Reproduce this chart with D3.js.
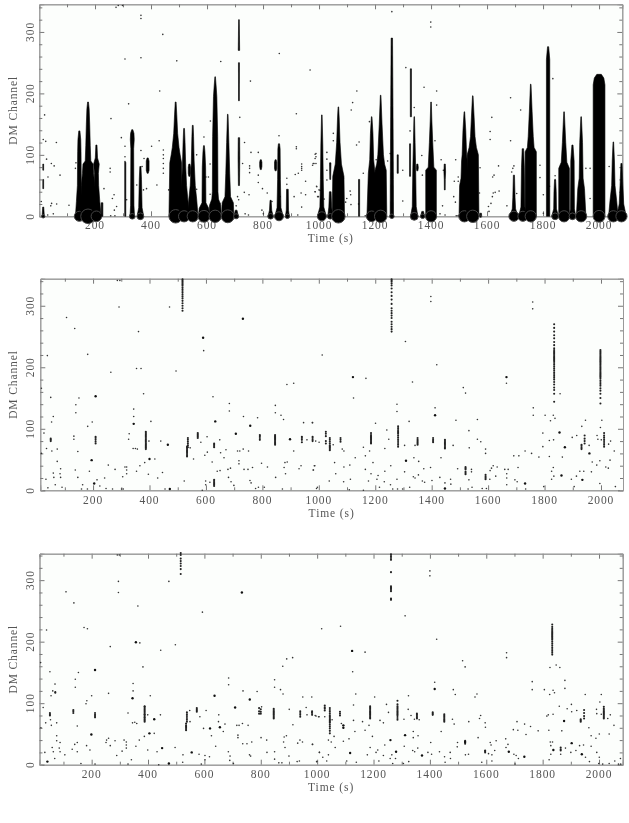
<!DOCTYPE html>
<html>
<head>
<meta charset="utf-8">
<script src="https://cdn.jsdelivr.net/npm/d3@7"></script>
<style>
html, body { margin: 0; padding: 0; background: #fff; }
svg { display: block; filter: blur(0.4px); }
text { font-family: "Liberation Serif", serif; font-size: 11.5px; fill: #555; letter-spacing: 0.9px; }
</style>
</head>
<body>
<div id="my_dataviz"></div>
<script>
const xMajor = [200, 400, 600, 800, 1000, 1200, 1400, 1600, 1800, 2000];
const xMinor = [100, 300, 500, 700, 900, 1100, 1300, 1500, 1700, 1900];
const yMajor = [0, 100, 200, 300];
const yMinor = [20, 40, 60, 80, 120, 140, 160, 180, 220, 240, 260, 280, 320, 340];
const xTitle = "Time (s)";
const yTitle = "DM Channel";

// top panel: big pulses, time / width of the blob at dm 0 / [dm, half width in s]
const towerTimes = [15, 15, 15, 144, 175, 205, 225, 308, 333, 362, 388, 488, 518, 537, 549, 589, 629, 674, 704, 714, 714, 714, 792, 827, 845, 857, 887, 1010, 1040, 1040, 1069, 1143, 1188, 1220, 1260, 1281, 1328, 1325, 1340, 1351, 1370, 1400, 1449, 1519, 1549, 1577, 1696, 1728, 1756, 1818, 1843, 1875, 1905, 1936, 2000, 2051, 2080];
const towerBlobs = [6, 0, 0, 18, 26, 19, 0, 0, 10, 12, 0, 24, 20, 0, 20, 21, 22, 23, 9, 0, 0, 0, 0, 10, 0, 16, 8, 16, 10, 0, 24, 0, 19, 22, 8, 0, 0, 0, 14, 0, 8, 20, 0, 20, 22, 4, 18, 18, 20, 0, 12, 20, 12, 20, 21, 20, 20];
const towerProfiles = [
  [[0, 4], [15, 1.8]],
  [[45, 1.5], [60, 1.5]],
  [[75, 1.5], [85, 1.5]],
  [[0, 14], [24, 10.5], [50, 7], [105, 6], [125, 5], [139, 2]],
  [[0, 26], [50, 24], [70, 20], [85, 18], [90, 10], [115, 8], [150, 6], [175, 4], [186, 1.5]],
  [[0, 17], [24, 12], [50, 8], [70, 7], [85, 10], [95, 4], [116, 2]],
  [[0, 3], [22, 3]],
  [[0, 2], [88, 2]],
  [[0, 8], [18, 6], [110, 5], [125, 7], [135, 6], [141, 2]],
  [[0, 12], [14, 6], [60, 4], [81, 2]],
  [[70, 2], [75, 5], [90, 5], [95, 2]],
  [[0, 24], [87, 21], [100, 16], [112, 12], [135, 7], [165, 4], [186, 1.5]],
  [[0, 19], [25, 14], [50, 9], [80, 6], [120, 3.5], [143, 1.5]],
  [[65, 2], [70, 4], [80, 4], [85, 2]],
  [[0, 19], [28, 14], [50, 9], [90, 5], [130, 3], [148, 1.5]],
  [[0, 20], [13, 17], [22, 7], [80, 6], [105, 3.5], [115, 1.5]],
  [[0, 22], [18, 20], [28, 12], [40, 10], [130, 9], [195, 6], [212, 3.5], [227, 1]],
  [[0, 22], [22, 20], [32, 10], [70, 7], [120, 4], [166, 1]],
  [[0, 8], [10, 3]],
  [[50, 2], [95, 3], [128, 2.5]],
  [[188, 1.5], [250, 1.8]],
  [[270, 2.5], [320, 1.2]],
  [[76, 2], [81, 4], [88, 4], [92, 2]],
  [[0, 9], [10, 4], [26, 2]],
  [[74, 2], [78, 4], [88, 4], [92, 2]],
  [[0, 15], [14, 7], [60, 5], [110, 4], [118, 2]],
  [[0, 7], [10, 4], [44, 3]],
  [[0, 16], [15, 7], [60, 5], [116, 3.5], [165, 1]],
  [[0, 9], [15, 5], [40, 3]],
  [[60, 1.5], [87, 2.5]],
  [[0, 22], [65, 20], [85, 11], [120, 6], [160, 3], [178, 1]],
  [[0, 2], [60, 2]],
  [[0, 17], [70, 12], [92, 7], [135, 4.5], [162, 1]],
  [[0, 22], [75, 20], [85, 14], [100, 10], [150, 5], [197, 1]],
  [[0, 6], [60, 5.5], [180, 4], [290, 2.5]],
  [[70, 2], [100, 2]],
  [[162, 2], [240, 2]],
  [[65, 1.8], [118, 1.8]],
  [[0, 13], [16, 7], [80, 5], [120, 3], [162, 1]],
  [[74, 2], [79, 3.5], [85, 2]],
  [[0, 7], [8, 3]],
  [[0, 19], [75, 19], [80, 10], [120, 6], [155, 3], [186, 1]],
  [[43, 1.5], [60, 1.8], [72, 3], [85, 2]],
  [[0, 19], [50, 17], [62, 12], [90, 10], [100, 8], [140, 5], [170, 1]],
  [[0, 22], [100, 20], [112, 13], [130, 8], [160, 5], [196, 1]],
  [[0, 4], [5, 3]],
  [[0, 15], [12, 6], [30, 4], [67, 2]],
  [[0, 15], [15, 7], [80, 5], [110, 2.5]],
  [[0, 20], [105, 20], [112, 12], [130, 9], [170, 5], [215, 1]],
  [[0, 6], [255, 6], [276, 2]],
  [[0, 12], [12, 5], [40, 4], [59, 2]],
  [[0, 19], [78, 19], [88, 10], [120, 6], [150, 3], [170, 1]],
  [[0, 12], [12, 7], [90, 6], [116, 2]],
  [[0, 17], [45, 12], [62, 7], [120, 5], [162, 1]],
  [[0, 21], [214, 21], [225, 17], [231, 8]],
  [[0, 17], [25, 12], [50, 6], [90, 4], [121, 1]],
  [[0, 17], [20, 8], [50, 5], [86, 2]]
];
const pulses1 = [[275,340],[283,343],[298,343],[364,327],[364,322],[442,296],[307,256],[364,258],[492,253],[649,252],[858,265],[968,238],[755,220],[431,204],[320,183],[20,165],[257,159],[612,155],[717,161],[919,167],[294,128],[15,125],[24,122],[62,120],[429,123],[307,114],[364,107],[402,114],[444,108],[444,100],[444,94],[444,86],[444,78],[444,70],[589,129],[734,120],[757,104],[783,104],[857,131],[919,110],[919,113],[27,93],[44,86],[54,82],[75,67],[32,64],[130,78],[132,87],[254,78],[254,72],[307,97],[307,89],[375,94],[368,81],[421,51],[373,43],[384,45],[471,90],[463,43],[232,45],[268,35],[262,29],[277,16],[269,10],[256,1],[271,1],[8,24],[45,21],[63,20],[42,17],[51,4],[31,2],[107,18],[313,27],[349,51],[563,100],[563,44],[596,64],[611,36],[605,64],[611,85],[646,21],[752,82],[752,78],[752,71],[783,67],[783,55],[815,38],[750,35],[733,39],[798,45],[832,24],[796,10],[801,4],[736,4],[748,2],[727,86],[709,32],[713,27],[704,17],[911,32],[915,68],[926,70],[938,81],[938,75],[938,85],[938,78],[936,38],[938,15],[952,35],[952,57],[979,86],[989,86],[989,97],[989,102],[992,48],[986,40],[1000,43],[998,32],[861,32],[885,62],[885,52],[924,2],[1260,333],[1399,316],[1399,308],[1310,242],[1375,210],[1420,204],[1135,204],[1120,185],[1115,173],[1420,181],[1684,193],[1720,173],[1835,224],[1617,161],[1611,138],[1611,125],[1684,123],[1180,154],[1051,135],[1051,123],[1143,121],[1134,116],[1340,177],[1414,123],[986,101],[986,94],[982,86],[977,83],[1028,104],[1028,93],[1028,75],[1028,59],[991,49],[995,32],[986,40],[1004,42],[1018,28],[1087,62],[1158,70],[1111,41],[1113,35],[1099,29],[1095,23],[1114,19],[1141,20],[1165,1],[1204,92],[1245,90],[1254,102],[1299,75],[1299,25],[1367,99],[1369,67],[1325,139],[1436,92],[1444,75],[1441,17],[1450,2],[1432,4],[1488,92],[1483,57],[1497,64],[1497,57],[1487,23],[1481,32],[1490,1],[1496,1],[1500,1],[1575,79],[1573,38],[1641,82],[1625,67],[1620,64],[1643,41],[1629,39],[1622,38],[1619,32],[1614,21],[1607,8],[1605,16],[1671,17],[1692,78],[1696,82],[1706,37],[1688,72],[1789,83],[1789,63],[1801,35],[1801,5],[1823,49],[1953,78],[1968,78],[1968,29],[2036,81],[1843,66],[1843,60]];

// lower panels
const pulses2 = [[286,341],[295,341],[292,298],[106,281],[135,263],[38,219],[181,221],[263,192],[354,198],[370,198],[361,258],[471,298],[494,194],[592,227],[625,152],[379,157],[50,151],[150,150],[17,166],[887,172],[911,174],[683,141],[683,129],[733,120],[783,118],[846,138],[846,126],[866,122],[875,115],[946,110],[978,110],[139,139],[139,126],[344,132],[344,120],[197,111],[181,104],[59,120],[53,111],[405,112],[26,93],[132,88],[132,83],[328,92],[326,83],[342,68],[350,68],[357,67],[398,80],[440,80],[35,68],[54,64],[73,67],[17,60],[146,63],[254,41],[73,47],[419,51],[313,38],[319,38],[278,34],[319,33],[319,27],[305,22],[354,31],[383,45],[366,40],[85,35],[137,33],[187,31],[59,28],[83,27],[85,21],[61,21],[146,21],[33,18],[241,20],[214,17],[396,26],[446,29],[429,20],[40,4],[66,9],[90,5],[163,9],[159,2],[180,2],[224,7],[246,3],[269,2],[301,2],[307,2],[455,2],[523,15],[587,0],[599,15],[599,9],[614,13],[544,69],[556,51],[582,78],[604,87],[596,57],[605,62],[622,46],[649,82],[652,61],[640,31],[650,32],[664,53],[671,66],[678,34],[687,36],[712,64],[720,64],[732,67],[751,64],[717,48],[717,43],[735,34],[749,34],[765,37],[680,21],[689,14],[699,8],[756,16],[760,12],[776,3],[786,5],[807,5],[797,44],[818,38],[880,45],[888,46],[877,37],[882,27],[847,21],[871,2],[911,64],[930,35],[937,40],[958,82],[989,80],[1001,78],[980,33],[986,40],[995,5],[1397,315],[1397,307],[1012,220],[1307,242],[1418,204],[1123,150],[1167,182],[1332,176],[1512,167],[1520,158],[1665,174],[1758,306],[1758,295],[1855,157],[1412,134],[1277,140],[1277,128],[1760,134],[1760,122],[1802,122],[1831,122],[1837,117],[1821,113],[2003,114],[1945,114],[1998,102],[1932,104],[1486,114],[1562,115],[1320,112],[1201,109],[1241,98],[977,110],[1532,97],[1051,74],[1083,67],[1089,64],[1180,64],[1248,83],[1234,68],[1158,70],[1304,73],[1341,73],[1476,73],[1433,53],[1562,83],[1574,79],[1533,69],[1591,67],[1591,60],[1691,56],[1709,56],[1731,64],[1754,60],[1780,54],[1794,71],[1794,93],[1817,81],[1832,82],[1863,54],[1817,55],[1898,86],[1914,89],[1958,73],[1986,89],[1989,83],[2001,82],[2027,75],[2034,80],[2047,64],[984,40],[981,33],[1056,45],[1060,27],[1037,15],[992,3],[1089,38],[1110,41],[1088,14],[1112,18],[1129,53],[1108,1],[1158,0],[1165,56],[1165,34],[1192,45],[1185,27],[1210,24],[1206,18],[1232,14],[1176,15],[1215,5],[1234,31],[1255,40],[1254,9],[1277,18],[1262,2],[1279,2],[1297,2],[1304,30],[1337,53],[1354,47],[1353,25],[1335,22],[1341,20],[1322,5],[1372,35],[1396,37],[1367,15],[1375,13],[1401,16],[1429,21],[1447,12],[1467,18],[1468,10],[1492,35],[1541,30],[1541,34],[1532,17],[1543,5],[1529,2],[1579,3],[1606,18],[1594,3],[1612,36],[1607,32],[1618,40],[1632,38],[1627,23],[1659,34],[1671,34],[1666,27],[1666,20],[1666,9],[1706,37],[1695,17],[1703,14],[1733,2],[1797,6],[1825,31],[1831,37],[1825,18],[1833,23],[1895,18],[1905,6],[1913,23],[1925,31],[1939,31],[1966,30],[1969,46],[1985,41],[1996,48],[2017,38],[2026,36],[2032,49],[1996,11],[2051,6]];
const strong2 = [[590,248],[731,279],[209,153],[633,112],[757,105],[344,108],[195,49],[400,51],[465,74],[472,2],[204,11],[706,92],[898,83],[1121,184],[1665,184],[1872,70],[1853,94],[1959,60],[1412,122],[1309,48],[1447,3],[1731,11],[1860,24],[1934,17]];
const columns2 = [
  [50, [80, 82, 84]], [209, [76, 79, 82, 85, 87]], [387, [67, 69, 71, 73, 75, 77, 79, 81, 83, 85, 87, 89, 91, 93, 95]],
  [533, [55, 57, 59, 61, 63, 65, 67, 69, 71]], [536, [70, 73, 76, 79, 82, 85]], [571, [85, 87, 89, 91, 93]], [629, [70, 72, 74, 76]],
  [629, [7, 9, 11, 13, 15, 17]], [791, [82, 85, 88, 90]], [845, [74, 76, 78, 80, 82, 84, 86, 88, 90]], [940, [78, 82, 85, 87]], [978, [80, 82, 85, 87]],
  [1025, [76, 80, 88, 92, 95]], [1039, [65, 67, 69, 71, 73, 76, 79, 82, 85]], [1077, [79, 82, 85]], [1185, [76, 78, 80, 82, 84, 86, 88, 90, 93]],
  [1281, [71, 74, 77, 80, 83, 86, 89, 92, 94, 96, 98, 101, 104]], [1350, [74, 76, 78, 80, 82, 85]], [1405, [78, 80, 82, 85]], [1447, [68, 70, 72, 74, 76, 78, 80, 82]],
  [1520, [26, 28, 30, 34, 36, 38]], [1591, [18, 20, 22, 25]], [1942, [76, 80, 84, 89]], [1931, [67, 69, 72, 74]], [2011, [71, 74, 77, 80, 83, 86, 89, 93]],
  [517, [292, 296, 300, 304, 308, 312, 315, 318, 321, 324, 327, 330, 333, 335, 337, 339, 341, 343]],
  [1258, [258, 262, 266, 270, 274, 280, 284, 288, 292, 296, 303, 310, 316, 322, 328, 333, 336, 339, 341, 343]],
  [1834, [144, 157, 163, 167, 172, 176, 180, 183, 186, 189, 192, 195, 198, 201, 204, 207, 210, 212, 214, 216, 218, 220, 222, 224, 226, 228, 231, 236, 241, 247, 252, 258, 264, 270]],
  [1998, [141, 150, 157, 162, 166, 170, 173, 176, 179, 182, 184, 186, 188, 190, 192, 194, 196, 198, 200, 202, 204, 206, 208, 210, 212, 214, 216, 218, 220, 222, 224, 226, 228]]
];
const pulses3 = [[291,341],[298,341],[295,298],[295,280],[109,281],[137,263],[40,219],[173,223],[185,221],[266,192],[371,198],[364,258],[474,298],[497,195],[593,248],[382,159],[52,151],[153,150],[19,166],[892,172],[878,160],[913,174],[445,186],[686,141],[686,130],[737,120],[787,119],[849,138],[849,126],[870,122],[879,115],[949,110],[981,110],[142,139],[142,126],[347,132],[347,120],[200,112],[183,104],[180,99],[70,131],[62,120],[56,112],[260,116],[408,112],[28,93],[54,73],[329,84],[345,68],[353,69],[360,67],[399,81],[444,81],[37,68],[57,64],[76,68],[20,60],[149,63],[76,47],[76,39],[422,51],[253,40],[260,43],[283,39],[315,40],[323,37],[266,31],[251,36],[323,32],[323,27],[308,22],[357,30],[369,40],[387,46],[88,36],[140,33],[149,36],[182,31],[194,24],[60,28],[85,27],[88,21],[64,21],[149,21],[34,20],[131,25],[105,16],[69,10],[162,2],[212,1],[289,15],[329,1],[341,8],[399,24],[432,21],[438,0],[474,2],[496,28],[524,16],[523,4],[581,17],[589,1],[602,15],[602,8],[618,13],[548,88],[549,70],[584,78],[606,88],[597,59],[625,47],[640,30],[650,70],[651,81],[667,54],[673,66],[715,64],[723,64],[735,67],[755,64],[719,48],[719,44],[736,34],[751,34],[768,37],[685,21],[691,14],[690,7],[703,2],[760,16],[764,14],[801,44],[821,40],[883,45],[891,47],[881,37],[886,28],[822,20],[849,21],[849,9],[864,3],[875,3],[900,14],[929,5],[937,6],[803,94],[901,90],[914,65],[931,35],[939,40],[948,37],[961,93],[964,81],[993,80],[1005,78],[984,33],[998,5],[1008,20],[1400,315],[1400,307],[1312,242],[1016,221],[1083,225],[1424,204],[1170,183],[1126,151],[1516,169],[1525,159],[1672,182],[1672,174],[1763,135],[1763,122],[1806,122],[1837,121],[1842,117],[1825,114],[1826,158],[1848,162],[1861,158],[1879,137],[1879,124],[2008,114],[1951,114],[2003,102],[1417,134],[1483,122],[1490,114],[1560,110],[1567,115],[1324,112],[1204,110],[1137,115],[1246,98],[981,85],[996,79],[1007,78],[1027,78],[1053,73],[1086,67],[1129,97],[1129,72],[1161,70],[1184,64],[1223,72],[1235,68],[1253,85],[1308,74],[1323,90],[1333,80],[1345,74],[1362,73],[1480,74],[1486,66],[1440,54],[1538,70],[1576,75],[1580,80],[1596,68],[1597,61],[1696,57],[1709,70],[1712,56],[1736,66],[1757,62],[1741,49],[1784,55],[1820,81],[1815,79],[1837,82],[1859,95],[1822,56],[1868,55],[1887,91],[1902,98],[1903,86],[1921,88],[1964,60],[1972,47],[1989,43],[2001,50],[1991,90],[1992,83],[2008,82],[2031,75],[2040,81],[2053,64],[2036,50],[983,33],[1060,46],[1064,28],[1040,40],[1050,37],[1040,16],[1008,20],[1020,12],[1034,6],[999,5],[1093,38],[1113,42],[1105,6],[1134,54],[1139,4],[1170,56],[1196,46],[1188,28],[1215,24],[1209,20],[1178,16],[1235,15],[1219,6],[1240,32],[1265,16],[1259,10],[1278,10],[1268,2],[1306,2],[1325,5],[1309,30],[1341,54],[1358,47],[1341,44],[1357,27],[1339,23],[1346,21],[1393,20],[1406,17],[1403,36],[1434,21],[1452,13],[1454,4],[1472,20],[1473,10],[1498,36],[1497,29],[1526,16],[1537,17],[1571,44],[1584,4],[1608,18],[1620,16],[1614,36],[1617,32],[1635,39],[1630,23],[1620,6],[1669,42],[1677,33],[1670,28],[1698,17],[1706,15],[1714,10],[1702,1],[1827,37],[1835,37],[1829,31],[1829,17],[1823,8],[1864,17],[1881,27],[1900,20],[1918,23],[1931,31],[1945,32],[1952,12],[1972,30],[1966,5],[1992,20],[2001,12],[1999,2],[2013,1],[2036,2],[2056,6],[2076,10],[2069,1],[2077,1]];
const strong3 = [[357,199],[733,280],[212,154],[761,106],[636,112],[345,108],[199,49],[405,51],[422,74],[450,27],[43,5],[474,2],[555,20],[620,59],[655,61],[709,93],[1124,185],[1117,19],[1417,123],[1312,48],[1260,40],[1280,21],[1372,15],[1525,37],[1680,21],[1735,13],[1838,24],[1876,71],[1903,35],[1939,17],[1093,60],[1093,64]];
const columns3 = [
  [52, [80, 82, 84]], [135, [84, 87, 89]], [212, [77, 79, 81, 84]], [71, [117, 118]], [388, [70, 72, 74, 76, 77, 79, 81, 82, 84, 86, 88, 90, 92, 94, 95]],
  [535, [56, 58, 60, 62, 64, 67]], [538, [70, 73, 76, 79, 82, 85]], [573, [86, 88, 90, 92]], [800, [83, 86, 90]], [794, [83, 87, 92]],
  [846, [75, 77, 79, 81, 83, 85, 87, 89, 91]], [940, [78, 81, 84, 87]], [982, [81, 84, 87]],
  [1027, [88, 91, 93, 96]], [1045, [51, 55, 59, 62, 65, 68, 70, 72, 74, 76, 78, 80, 83, 86, 89, 92]], [1081, [80, 83, 86]],
  [1188, [75, 77, 79, 81, 83, 85, 87, 89, 91, 93, 95]], [1285, [73, 76, 79, 81, 83, 85, 87, 89, 91, 93, 95, 98, 104]],
  [1354, [75, 77, 79, 81, 83]], [1410, [81, 83, 85]], [1451, [70, 72, 74, 76, 78, 80, 82]], [1525, [34, 37, 39]], [1596, [20, 22, 23]], [1864, [23, 25, 28]],
  [1947, [75, 79, 84, 89]], [1935, [70, 72, 74]], [2017, [75, 77, 79, 81, 83, 85, 87, 89, 91, 94]],
  [516, [310, 318, 323, 327, 331, 335, 341, 344]], [1262, [268, 270, 282, 284, 286, 288, 290, 313, 333, 336, 339, 342]],
  [1834, [179, 182, 185, 188, 191, 194, 197, 200, 203, 205, 207, 209, 211, 213, 215, 217, 219, 221, 224, 228]]
];

const plots = [
  { left: 39.3, right: 622.3, top: 4.3, bottom: 216.3, tMin: 1, tMax: 2083, dmMax: 345, labelY: 229, titleY: 242 },
  { left: 40.3, right: 623, top: 278.7, bottom: 490.3, tMin: 13, tMax: 2078, dmMax: 344, labelY: 504, titleY: 517 },
  { left: 39.5, right: 622.7, top: 553.7, bottom: 764.7, tMin: 15, tMax: 2084, dmMax: 343, labelY: 778, titleY: 791 }
];

const svg = d3.select("#my_dataviz").append("svg")
  .attr("width", 629)
  .attr("height", 823);

const drawFrame = (p, x, y) => {
  const g = svg.append("g");
  g.append("rect")
    .attr("x", p.left).attr("y", p.top)
    .attr("width", p.right - p.left).attr("height", p.bottom - p.top)
    .attr("fill", "#fcfefc");

  const both = (axis, values, size, tx, ty) => {
    const a = g.append("g")
      .attr("transform", `translate(${tx},${ty})`)
      .call(axis.tickValues(values).tickSize(size).tickFormat(""));
    a.selectAll("line").attr("stroke", "#777");
    a.selectAll("path").attr("stroke", "#999");
  };
  [[xMajor, -5], [xMinor, -3]].forEach(([v, s]) => {
    both(d3.axisBottom(x), v, s, 0, p.bottom);
    both(d3.axisTop(x), v, s, 0, p.top);
  });
  [[yMajor, -5], [yMinor, -3]].forEach(([v, s]) => {
    both(d3.axisLeft(y), v, s, p.left, 0);
    both(d3.axisRight(y), v, s, p.right, 0);
  });

  g.selectAll(".xlab").data(xMajor).join("text")
    .attr("class", "xlab")
    .attr("x", d => x(d)).attr("y", p.labelY)
    .attr("text-anchor", "middle")
    .text(d => d);
  g.selectAll(".ylab").data(yMajor).join("text")
    .attr("class", "ylab")
    .attr("transform", d => `translate(33.5,${y(d)}) rotate(-90)`)
    .attr("text-anchor", "middle")
    .text(d => d);
  g.append("text")
    .attr("x", (p.left + p.right) / 2).attr("y", p.titleY)
    .attr("text-anchor", "middle")
    .text(xTitle);
  g.append("text")
    .attr("transform", `translate(17,${(p.top + p.bottom) / 2}) rotate(-90)`)
    .attr("text-anchor", "middle")
    .text(yTitle);
};

const drawPulses = (data, strong, columns, x, y) => {
  const flat = columns.flatMap(([t, dms]) => dms.map(dm => [t, dm]));
  svg.append("g").selectAll("circle").data(data).join("circle")
    .attr("cx", d => x(d[0])).attr("cy", d => y(d[1]))
    .attr("r", 0.8).attr("fill", "#333");
  svg.append("g").selectAll("circle").data(flat).join("circle")
    .attr("cx", d => x(d[0])).attr("cy", d => y(d[1]))
    .attr("r", 1.05).attr("fill", "#222");
  svg.append("g").selectAll("circle").data(strong).join("circle")
    .attr("cx", d => x(d[0])).attr("cy", d => y(d[1]))
    .attr("r", 1.2).attr("fill", "#111");
};

plots.forEach((p, i) => {
  const x = d3.scaleLinear().domain([p.tMin, p.tMax]).range([p.left, p.right]);
  const y = d3.scaleLinear().domain([0, p.dmMax]).range([p.bottom, p.top]);
  drawFrame(p, x, y);

  if (i === 0) {
    drawPulses(pulses1, [], [], x, y);
    towerTimes.forEach((t, k) => {
      const area = d3.area()
        .y(d => y(d[0]))
        .x0(d => x(t - d[1]))
        .x1(d => x(t + d[1]));
      svg.append("path")
        .attr("d", area(towerProfiles[k]))
        .attr("fill", "#000")
        .attr("stroke", "#000")
        .attr("stroke-width", 0.6)
        .attr("stroke-linejoin", "round");
      if (towerBlobs[k] > 0) {
        svg.append("circle")
          .attr("cx", x(t))
          .attr("cy", y(0))
          .attr("r", x(t + towerBlobs[k]) - x(t))
          .attr("fill", "#000")
          .attr("stroke", "#444")
          .attr("stroke-width", 1);
      }
    });
  } else if (i === 1) {
    drawPulses(pulses2, strong2, columns2, x, y);
  } else {
    drawPulses(pulses3, strong3, columns3, x, y);
  }
});
</script>
</body>
</html>
